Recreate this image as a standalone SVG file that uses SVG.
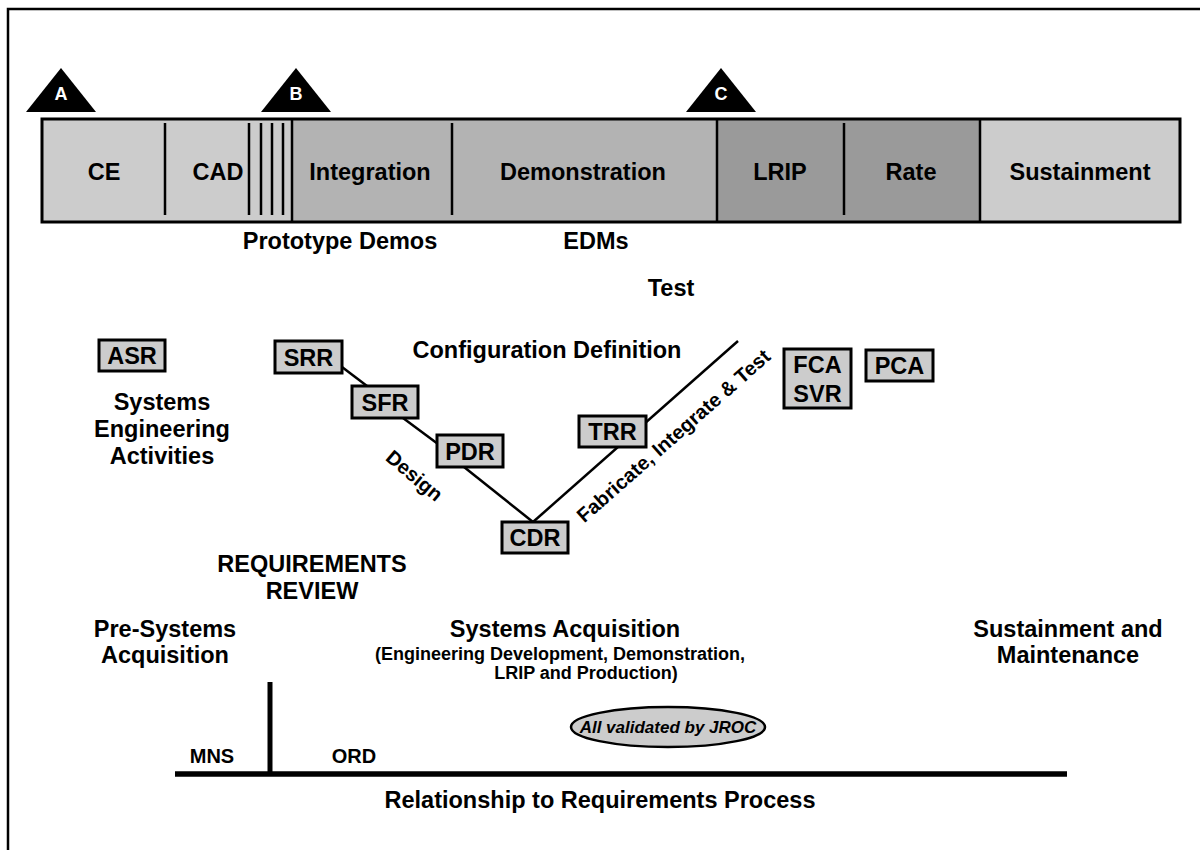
<svg xmlns="http://www.w3.org/2000/svg" width="1200" height="850" viewBox="0 0 1200 850">
<style>
.t{font-family:"Liberation Sans",Arial,Helvetica,sans-serif;font-weight:bold;text-anchor:middle;fill:#000;font-size:23.5px}
.s{font-size:18px}
.w{fill:#fff;font-size:18px}
.box{fill:#cccccc;stroke:#000;stroke-width:3}
.div{stroke:#000;stroke-width:2.5;fill:none}
.ln{stroke:#000;stroke-width:2.5;fill:none}
.tri{fill:#000}
</style>
<rect x="0" y="0" width="1200" height="850" fill="#fff"/>
<polyline points="8,852 8,9 1202,9" fill="none" stroke="#000" stroke-width="2.5"/>

<g id="timeline">
<rect x="42" y="119" width="250" height="103" fill="#cccccc"/>
<rect x="292" y="119" width="425" height="103" fill="#b3b3b3"/>
<rect x="717" y="119" width="263" height="103" fill="#9a9a9a"/>
<rect x="980" y="119" width="200" height="103" fill="#cccccc"/>
<rect x="42" y="119" width="1138" height="103" fill="none" stroke="#000" stroke-width="3"/>
<line class="div" x1="165" y1="123" x2="165" y2="215"/>
<line class="div" x1="249" y1="123" x2="249" y2="215"/>
<line class="div" x1="261" y1="123" x2="261" y2="215"/>
<line class="div" x1="272" y1="123" x2="272" y2="215"/>
<line class="div" x1="283" y1="123" x2="283" y2="215"/>
<line class="div" x1="292" y1="119" x2="292" y2="222"/>
<line class="div" x1="452" y1="123" x2="452" y2="215"/>
<line class="div" x1="717" y1="119" x2="717" y2="222"/>
<line class="div" x1="844" y1="123" x2="844" y2="215"/>
<line class="div" x1="980" y1="119" x2="980" y2="222"/>
<text class="t" x="104" y="180">CE</text>
<text class="t" x="218" y="180">CAD</text>
<text class="t" x="370" y="180">Integration</text>
<text class="t" x="583" y="180">Demonstration</text>
<text class="t" x="780" y="180">LRIP</text>
<text class="t" x="911" y="180">Rate</text>
<text class="t" x="1080" y="180">Sustainment</text>
</g>

<g id="milestone-A"><polygon class="tri" points="61,68 96,112 26,112"/><text class="t w" x="61" y="100">A</text></g>
<g id="milestone-B"><polygon class="tri" points="296,68 331,112 261,112"/><text class="t w" x="296" y="100">B</text></g>
<g id="milestone-C"><polygon class="tri" points="721,68 756,112 686,112"/><text class="t w" x="721" y="100">C</text></g>

<g id="labels">
<text class="t" x="340" y="249">Prototype Demos</text>
<text class="t" x="596" y="249">EDMs</text>
<text class="t" x="671" y="296">Test</text>
<text class="t" x="547" y="358">Configuration Definition</text>
<text class="t" x="162" y="410">Systems</text>
<text class="t" x="162" y="437">Engineering</text>
<text class="t" x="162" y="464">Activities</text>
<text class="t" x="312" y="572">REQUIREMENTS</text>
<text class="t" x="312" y="599">REVIEW</text>
<text class="t" x="165" y="637">Pre-Systems</text>
<text class="t" x="165" y="663">Acquisition</text>
<text class="t" x="565" y="637">Systems Acquisition</text>
<text class="t s" x="560" y="660">(Engineering Development, Demonstration,</text>
<text class="t s" x="586" y="679">LRIP and Production)</text>
<text class="t" x="1068" y="637">Sustainment and</text>
<text class="t" x="1068" y="663">Maintenance</text>
<text class="t" x="410" y="481" style="font-size:20px" transform="rotate(40 410 481)">Design</text>
<text class="t" x="678" y="441" style="font-size:20px" transform="rotate(-41.4 678 441)">Fabricate, Integrate &amp; Test</text>
</g>

<g id="connectors">
<line class="ln" x1="342" y1="367" x2="367" y2="386"/>
<line class="ln" x1="403" y1="418" x2="438" y2="444"/>
<line class="ln" x1="464" y1="467" x2="533" y2="522"/>
<line class="ln" x1="533" y1="522" x2="738" y2="341"/>
</g>

<g id="ASR"><rect class="box" x="99" y="340" width="66" height="31"/><text class="t" x="132" y="364">ASR</text></g>
<g id="SRR"><rect class="box" x="275" y="341" width="67" height="32"/><text class="t" x="308.5" y="366">SRR</text></g>
<g id="SFR"><rect class="box" x="352" y="386" width="66" height="32"/><text class="t" x="385" y="411">SFR</text></g>
<g id="PDR"><rect class="box" x="437" y="435" width="66" height="32"/><text class="t" x="470" y="460">PDR</text></g>
<g id="CDR"><rect class="box" x="502" y="522" width="66" height="31"/><text class="t" x="535" y="546">CDR</text></g>
<g id="TRR"><rect class="box" x="579" y="416" width="67" height="31"/><text class="t" x="612.5" y="440">TRR</text></g>
<g id="FCA-SVR"><rect class="box" x="784" y="349" width="67" height="59"/><text class="t" x="817.5" y="373">FCA</text><text class="t" x="817.5" y="402">SVR</text></g>
<g id="PCA"><rect class="box" x="866" y="350" width="67" height="31"/><text class="t" x="899.5" y="374">PCA</text></g>

<g id="requirements">
<line x1="175" y1="774" x2="1067" y2="774" stroke="#000" stroke-width="5.5"/>
<line x1="270" y1="682" x2="270" y2="774" stroke="#000" stroke-width="5"/>
<text class="t" x="212" y="763" style="font-size:20px">MNS</text>
<text class="t" x="354" y="763" style="font-size:20px">ORD</text>
<g id="JROC"><ellipse cx="668" cy="727" rx="97" ry="20" fill="#cccccc" stroke="#000" stroke-width="2.5"/>
<text class="t" x="668" y="733" style="font-size:17px;font-style:italic">All validated by JROC</text></g>
<text class="t" x="600" y="808">Relationship to Requirements Process</text>
</g>
</svg>
